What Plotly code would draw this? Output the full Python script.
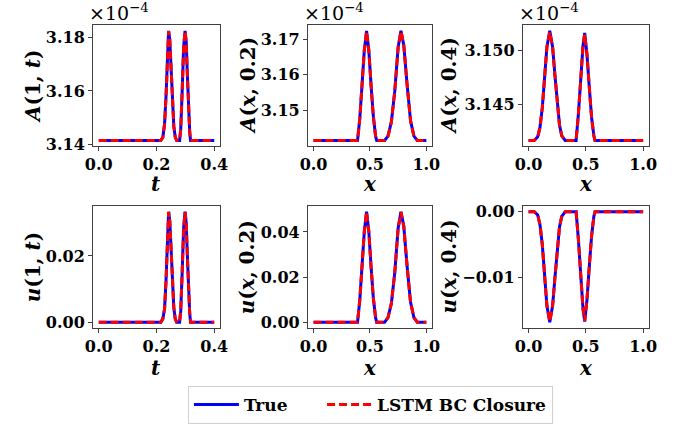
import plotly.graph_objects as go

W, H = 693, 428

# ---- data -------------------------------------------------------------
# A values are stored in units of 1e-4 (shown with the x10^-4 offset label)

# boundary x = 1, as a function of time t
t_pts = [0.0, 0.1, 0.2, 0.215, 0.222, 0.228, 0.233, 0.238, 0.242, 0.246,
         0.250, 0.255, 0.260, 0.265, 0.270, 0.280, 0.284, 0.289, 0.294,
         0.299, 0.303, 0.307, 0.311, 0.315, 0.318, 0.35, 0.4]
A_1t_true = [3.1416, 3.1416, 3.1416, 3.1416, 3.1428, 3.1477, 3.1579, 3.1742,
             3.1823, 3.1790, 3.1681, 3.1558, 3.1469, 3.1428, 3.1416, 3.1416,
             3.1457, 3.1599, 3.1762, 3.1823, 3.1782, 3.1660, 3.1538, 3.1449,
             3.1416, 3.1416, 3.1416]
A_1t_lstm = [3.1416, 3.1416, 3.1416, 3.1416, 3.1428, 3.1477, 3.1579, 3.1742,
             3.1822, 3.1790, 3.1681, 3.1558, 3.1469, 3.1428, 3.1416, 3.1416,
             3.1457, 3.1599, 3.1762, 3.1822, 3.1782, 3.1660, 3.1538, 3.1449,
             3.1416, 3.1416, 3.1416]
u_1t_true = [0.0, 0.0, 0.0, 0.0, 0.0010, 0.0040, 0.0124, 0.0258, 0.0334,
             0.0307, 0.0217, 0.0117, 0.0044, 0.0010, 0.0, 0.0, 0.0034,
             0.0150, 0.0284, 0.0334, 0.0300, 0.0200, 0.0100, 0.0027, 0.0,
             0.0, 0.0]
u_1t_lstm = [0.0, 0.0, 0.0, 0.0, 0.0010, 0.0040, 0.0124, 0.0258, 0.0333,
             0.0307, 0.0217, 0.0117, 0.0044, 0.0010, 0.0, 0.0, 0.0034,
             0.0150, 0.0284, 0.0333, 0.0300, 0.0200, 0.0100, 0.0027, 0.0,
             0.0, 0.0]

# profile at t = 0.2
x_02 = [0.0, 0.2, 0.39, 0.41, 0.43, 0.45, 0.47, 0.49, 0.51, 0.53, 0.55, 0.56,
        0.60, 0.63, 0.66, 0.69, 0.72, 0.75, 0.775, 0.80, 0.83, 0.86, 0.89,
        0.92, 1.0]
A_02_true = [3.1416, 3.1416, 3.1416, 3.1477, 3.1570, 3.1668, 3.1723, 3.1668,
             3.1570, 3.1484, 3.1428, 3.1416, 3.1416, 3.1416, 3.1428, 3.1468,
             3.1554, 3.1677, 3.1723, 3.1683, 3.1570, 3.1471, 3.1428, 3.1416,
             3.1416]
A_02_lstm = [3.1416, 3.1416, 3.1416, 3.1477, 3.1570, 3.1668, 3.1722, 3.1668,
             3.1570, 3.1484, 3.1428, 3.1416, 3.1416, 3.1416, 3.1428, 3.1468,
             3.1554, 3.1677, 3.1722, 3.1683, 3.1570, 3.1471, 3.1428, 3.1416,
             3.1416]
u_02_true = [0.0, 0.0, 0.0, 0.0098, 0.0245, 0.0402, 0.0490, 0.0402, 0.0245,
             0.0108, 0.0020, 0.0, 0.0, 0.0, 0.0020, 0.0083, 0.0220, 0.0417,
             0.0490, 0.0426, 0.0245, 0.0088, 0.0020, 0.0, 0.0]
u_02_lstm = [0.0, 0.0, 0.0, 0.0098, 0.0245, 0.0402, 0.0489, 0.0402, 0.0245,
             0.0108, 0.0020, 0.0, 0.0, 0.0, 0.0020, 0.0083, 0.0220, 0.0417,
             0.0489, 0.0426, 0.0245, 0.0088, 0.0020, 0.0, 0.0]

# profile at t = 0.4
x_04 = [0.0, 0.05, 0.08, 0.10, 0.12, 0.14, 0.16, 0.185, 0.21, 0.23, 0.25,
        0.27, 0.29, 0.32, 0.35, 0.415, 0.435, 0.455, 0.475, 0.49, 0.51, 0.53,
        0.55, 0.57, 0.58, 0.7, 1.0]
A_04_true = [3.14167, 3.14167, 3.1420, 3.1429, 3.1447, 3.1472, 3.1503, 3.1518,
             3.1503, 3.1477, 3.1450, 3.1431, 3.1421, 3.14167, 3.14167, 3.14167,
             3.1441, 3.1474, 3.1504, 3.1516, 3.1496, 3.1466, 3.1438, 3.1421,
             3.14167, 3.14167, 3.14167]
A_04_lstm = [3.14167, 3.14167, 3.1420, 3.1429, 3.1447, 3.1472, 3.1503, 3.1517,
             3.1503, 3.1477, 3.1450, 3.1431, 3.1421, 3.14167, 3.14167, 3.14167,
             3.1441, 3.1474, 3.1504, 3.1515, 3.1496, 3.1466, 3.1438, 3.1421,
             3.14167, 3.14167, 3.14167]
u_04_true = [0.0, 0.0, -0.0005, -0.0020, -0.0050, -0.0092, -0.0142, -0.0167,
             -0.0142, -0.0100, -0.0055, -0.0023, -0.0007, 0.0, 0.0, 0.0,
             -0.0042, -0.0096, -0.0146, -0.0166, -0.0133, -0.0083, -0.0037,
             -0.0007, 0.0, 0.0, 0.0]
u_04_lstm = [0.0, 0.0, -0.0005, -0.0020, -0.0050, -0.0092, -0.0142, -0.0166,
             -0.0142, -0.0100, -0.0055, -0.0023, -0.0007, 0.0, 0.0, 0.0,
             -0.0042, -0.0096, -0.0146, -0.0165, -0.0133, -0.0083, -0.0037,
             -0.0007, 0.0, 0.0, 0.0]

# tick positions / labels
xt_t = [0.0, 0.2, 0.4]
xt_x = [0.0, 0.5, 1.0]
xt_t_lbl = ["0.0", "0.2", "0.4"]
xt_x_lbl = ["0.0", "0.5", "1.0"]
yt_A1 = [3.14, 3.16, 3.18]
yt_A2 = [3.15, 3.16, 3.17]
yt_A3 = [3.145, 3.150]
yt_u1 = [0.00, 0.02]
yt_u2 = [0.00, 0.02, 0.04]
yt_u3 = [-0.01, 0.00]
yt_A1_lbl = ["3.14", "3.16", "3.18"]
yt_A2_lbl = ["3.15", "3.16", "3.17"]
yt_A3_lbl = ["3.145", "3.150"]
yt_u1_lbl = ["0.00", "0.02"]
yt_u2_lbl = ["0.00", "0.02", "0.04"]
yt_u3_lbl = ["\u22120.01", "0.00"]

# ---- figure -----------------------------------------------------------
FONT = "DejaVu Serif"
BLUE = "#0000ff"
RED = "#ff0000"
FRAME = "#404040"
NBSP = "\u00a0"

# panel boxes in pixels: (left, right, top, bottom)
cols = [(87, 217), (307, 434), (527, 656)]
rows = [(22, 146), (208, 333)]

panels = [
    # row, col, x, true, lstm, xticks, xlabels, yticks, ylabels, ytitle, xtitle, xmax
    (0, 0, t_pts, A_1t_true, A_1t_lstm, xt_t, xt_t_lbl, yt_A1, yt_A1_lbl, "<i>A</i>(1, <i>t</i>)", "<i>t</i>", 0.4),
    (0, 1, x_02, A_02_true, A_02_lstm, xt_x, xt_x_lbl, yt_A2, yt_A2_lbl, "<i>A</i>(<i>x</i>, 0.2)", "<i>x</i>", 1.0),
    (0, 2, x_04, A_04_true, A_04_lstm, xt_x, xt_x_lbl, yt_A3, yt_A3_lbl, "<i>A</i>(<i>x</i>, 0.4)", "<i>x</i>", 1.0),
    (1, 0, t_pts, u_1t_true, u_1t_lstm, xt_t, xt_t_lbl, yt_u1, yt_u1_lbl, "<i>u</i>(1, <i>t</i>)", "<i>t</i>", 0.4),
    (1, 1, x_02, u_02_true, u_02_lstm, xt_x, xt_x_lbl, yt_u2, yt_u2_lbl, "<i>u</i>(<i>x</i>, 0.2)", "<i>x</i>", 1.0),
    (1, 2, x_04, u_04_true, u_04_lstm, xt_x, xt_x_lbl, yt_u3, yt_u3_lbl, "<i>u</i>(<i>x</i>, 0.4)", "<i>x</i>", 1.0),
]

ytitle_x = [25, 245, 451]
xtitle_y = [185, 374]

fig = go.Figure()
layout = dict(
    width=W, height=H,
    margin=dict(l=0, r=0, t=0, b=0),
    paper_bgcolor="white", plot_bgcolor="white",
    font=dict(family=FONT, size=16, color="black"),
    showlegend=True,
)
annotations = []


def pad(lo, hi):
    span = hi - lo
    return [lo - 0.05 * span, hi + 0.05 * span]


for i, (r, c, xs, yt, yl, xtk, xtl, ytk, ytl, ytitle, xtitle, xmax) in enumerate(panels):
    n = "" if i == 0 else str(i + 1)
    xa, ya = "x" + n, "y" + n
    fig.add_trace(go.Scatter(x=xs, y=yt, mode="lines", name="True" + NBSP * 5,
                             line=dict(color=BLUE, width=3),
                             xaxis=xa, yaxis=ya, showlegend=(i == 0)))
    fig.add_trace(go.Scatter(x=xs, y=yl, mode="lines", name="LSTM BC Closure",
                             line=dict(color=RED, width=3, dash="8px,4px"),
                             xaxis=xa, yaxis=ya, showlegend=(i == 0)))
    left, right = cols[c]
    top, bottom = rows[r]
    ymin = min(min(yt), min(yl))
    ymax = max(max(yt), max(yl))
    common = dict(showgrid=False, zeroline=False, showline=True, mirror=True,
                  linecolor=FRAME, linewidth=1, ticks="outside", ticklen=4,
                  tickwidth=1, tickcolor=FRAME,
                  tickfont=dict(family=FONT, size=16, color="black", weight="bold"))
    layout["xaxis" + n] = dict(common, domain=[left / W, right / W],
                               anchor=ya, range=pad(0.0, xmax),
                               tickmode="array", tickvals=xtk, ticktext=xtl)
    layout["yaxis" + n] = dict(common, domain=[1 - bottom / H, 1 - top / H],
                               anchor=xa, range=pad(ymin, ymax),
                               tickmode="array", tickvals=ytk, ticktext=ytl)
    # axis titles
    annotations.append(dict(text="<b>" + ytitle + "</b>", xref="paper", yref="paper",
                            x=ytitle_x[c] / W, y=1 - (top + bottom) / 2 / H,
                            xanchor="center", yanchor="middle", textangle=-90,
                            showarrow=False, font=dict(family=FONT, size=20)))
    annotations.append(dict(text="<b>" + xtitle + "</b>", xref="paper", yref="paper",
                            x=(left + right) / 2 / W, y=1 - xtitle_y[r] / H,
                            xanchor="center", yanchor="middle",
                            showarrow=False, font=dict(family=FONT, size=20)))
    if r == 0:
        annotations.append(dict(text="\u00d710<sup>\u22124</sup>", xref="paper", yref="paper",
                                x=(left - 6) / W, y=1 - (top + 1) / H,
                                xanchor="left", yanchor="bottom",
                                showarrow=False, font=dict(family=FONT, size=19)))

layout["annotations"] = annotations
layout["legend"] = dict(orientation="h", x=371 / W, y=1 - 393 / H,
                        xanchor="center", yanchor="top",
                        bordercolor="#d0d0d0", borderwidth=1, bgcolor="white",
                        itemwidth=45,
                        font=dict(family=FONT, size=17, weight="bold"))
fig.update_layout(**layout)

fig.write_html("out.html")
